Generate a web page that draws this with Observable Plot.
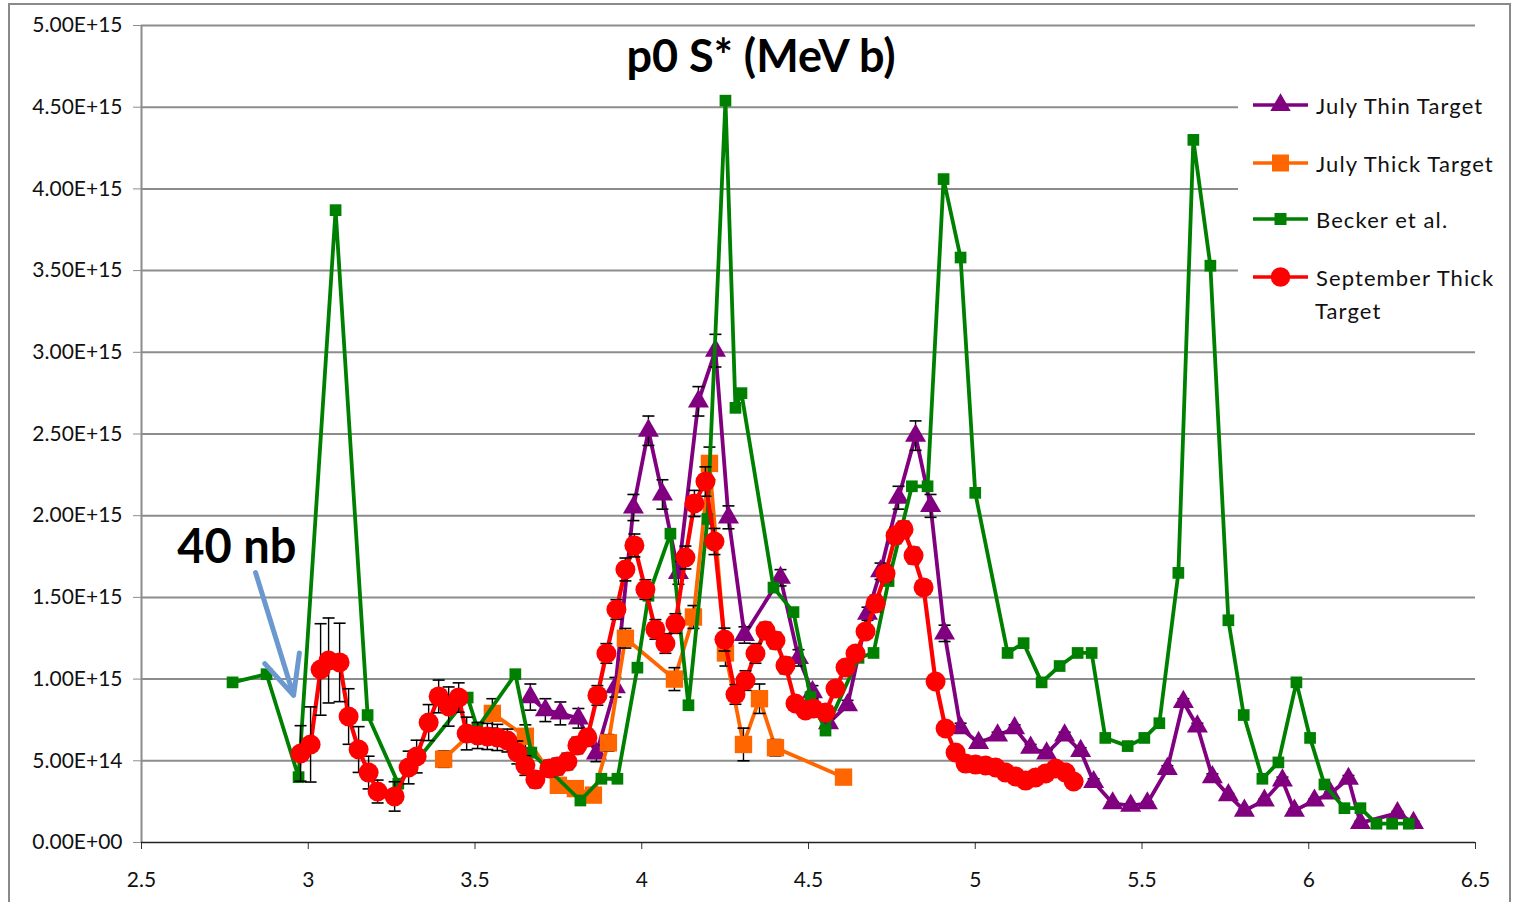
<!DOCTYPE html>
<html>
<head>
<meta charset="utf-8">
<script src="https://cdn.jsdelivr.net/npm/d3@7"></script>
<script src="https://cdn.jsdelivr.net/npm/@observablehq/plot@0.6"></script>
<style>
  html, body { margin: 0; padding: 0; background: #fff; }
  #wrap { position: relative; width: 1514px; height: 902px; overflow: hidden; font-family: Lato, "Open Sans", sans-serif; }
  #border { position: absolute; left: 8px; top: 3px; width: 1503px; height: 920px; border: 2px solid #8a8a8a; box-sizing: border-box; }
  #chart { position: absolute; left: 0; top: 0; }
  #title { position: absolute; left: 0; width: 1522px; top: 33px; text-align: center; font: bold 45px Lato, sans-serif; line-height: 45px; color: #000; }
  #legend { position: absolute; left: 1238px; top: 84px; width: 270px; height: 252px; background: #fff; }
  .li { position: absolute; left: 1253px; height: 30px; display: flex; align-items: center; font: 22px Lato, sans-serif; letter-spacing: 1.1px; color: #111; white-space: nowrap; }
  .li svg { margin-right: 7px; }
</style>
</head>
<body>
<div id="wrap">
  <div id="border"></div>
  <div id="chart"></div>
  <div id="title">p0 S* (MeV b)</div>
  <div id="legend"></div>
  <div id="legendItems"></div>
</div>
<script>
// ---------- data (y values in units of 1e15) ----------
const UNIT = 1e15;

const xTicks = [2.5, 3, 3.5, 4, 4.5, 5, 5.5, 6, 6.5];
const xTickLabels = ["2.5", "3", "3.5", "4", "4.5", "5", "5.5", "6", "6.5"];
const yTicks = [0, 0.5e15, 1e15, 1.5e15, 2e15, 2.5e15, 3e15, 3.5e15, 4e15, 4.5e15, 5e15];
const yTickLabels = ["0.00E+00","5.00E+14","1.00E+15","1.50E+15","2.00E+15","2.50E+15","3.00E+15","3.50E+15","4.00E+15","4.50E+15","5.00E+15"];

const seriesNames = ["July Thin Target", "July Thick Target", "Becker et al.", "September Thick Target"];
const seriesColors = ["#800080", "#ff6600", "#008000", "#ff0000"];

// July Thin Target (purple triangles)
const thinX = [3.666,3.711,3.756,3.810,3.864,3.921,3.975,4.020,4.062,4.110,4.170,4.221,4.260,4.308,4.416,4.470,4.512,4.560,4.617,4.677,4.716,4.770,4.821,4.866,4.908,4.956,5.010,5.067,5.118,5.166,5.214,5.268,5.316,5.355,5.412,5.466,5.516,5.576,5.624,5.666,5.711,5.759,5.807,5.867,5.921,5.957,6.017,6.065,6.119,6.155,6.266,6.314];
const thinY = [0.89,0.81,0.79,0.76,0.545,0.95,2.05,2.52,2.13,1.65,2.70,3.01,1.99,1.27,1.62,1.13,0.92,0.73,0.84,1.40,1.66,2.11,2.49,2.06,1.28,0.70,0.61,0.655,0.70,0.58,0.545,0.655,0.56,0.37,0.24,0.226,0.24,0.45,0.86,0.71,0.40,0.29,0.195,0.257,0.38,0.195,0.257,0.30,0.39,0.12,0.18,0.12];
const thinErr = [0.08,0.07,0.07,0.06,0.05,0.06,0.08,0.09,0.09,0.07,0.09,0.10,0.07,0.05,0.05,0.05,0.04,0.03,0.03,0.04,0.05,0.07,0.09,0.07,0.05,0.03,0.02,0.02,0.02,0.02,0.02,0.02,0.02,0.02,0.01,0.01,0.01,0.02,0.02,0.02,0.02,0.01,0.01,0.01,0.02,0.01,0.01,0.01,0.02,0.01,0.01,0.01];

// July Thick Target (orange squares)
const thickX = [3.406,3.552,3.651,3.750,3.801,3.855,3.900,3.951,4.098,4.155,4.203,4.251,4.305,4.353,4.401,4.605];
const thickY = [0.51,0.79,0.65,0.35,0.33,0.29,0.61,1.25,1.00,1.38,2.32,1.16,0.60,0.88,0.58,0.40];
const thickErr = [0.05,0.09,0.07,0.04,0.04,0.03,0.05,0.06,0.07,0.07,0.10,0.08,0.10,0.09,0.05,0.03];

// Becker et al. (green squares, no error bars)
const beckerX = [2.773,2.875,2.971,3.082,3.178,3.270,3.478,3.507,3.621,3.669,3.816,3.879,3.927,3.987,4.020,4.086,4.140,4.197,4.251,4.281,4.299,4.395,4.455,4.506,4.551,4.650,4.695,4.740,4.810,4.857,4.905,4.956,5.000,5.097,5.145,5.199,5.253,5.307,5.349,5.390,5.457,5.507,5.552,5.609,5.654,5.705,5.759,5.805,5.861,5.909,5.963,6.004,6.047,6.107,6.155,6.203,6.250,6.300];
const beckerY = [0.98,1.03,0.40,3.87,0.78,0.36,0.887,0.70,1.03,0.55,0.257,0.39,0.39,1.07,1.51,1.89,0.84,1.98,4.54,2.66,2.75,1.56,1.41,0.89,0.685,1.13,1.16,1.60,2.18,2.18,4.06,3.58,2.14,1.16,1.22,0.98,1.08,1.16,1.16,0.64,0.59,0.64,0.73,1.65,4.30,3.53,1.36,0.78,0.39,0.49,0.98,0.64,0.355,0.21,0.21,0.115,0.115,0.115];

// September Thick Target (red circles)
const septX = [2.977,3.007,3.037,3.061,3.094,3.121,3.151,3.181,3.208,3.259,3.301,3.325,3.361,3.391,3.421,3.451,3.475,3.508,3.537,3.567,3.597,3.627,3.651,3.681,3.723,3.747,3.777,3.807,3.837,3.867,3.894,3.924,3.951,3.978,4.011,4.041,4.071,4.101,4.131,4.158,4.191,4.218,4.248,4.281,4.311,4.341,4.371,4.401,4.431,4.461,4.491,4.515,4.551,4.581,4.611,4.641,4.671,4.701,4.731,4.761,4.785,4.815,4.845,4.881,4.911,4.941,4.971,5.001,5.031,5.061,5.091,5.121,5.151,5.181,5.211,5.241,5.271,5.295];
const septY = [0.545,0.60,1.059,1.114,1.102,0.771,0.569,0.428,0.312,0.282,0.459,0.526,0.734,0.894,0.832,0.887,0.667,0.655,0.649,0.643,0.624,0.551,0.471,0.386,0.453,0.465,0.496,0.594,0.643,0.90,1.157,1.426,1.671,1.818,1.548,1.304,1.218,1.340,1.744,2.075,2.209,1.842,1.242,0.906,0.991,1.157,1.297,1.236,1.083,0.851,0.808,0.82,0.796,0.942,1.071,1.157,1.291,1.463,1.646,1.879,1.916,1.756,1.561,0.985,0.698,0.551,0.483,0.477,0.471,0.459,0.428,0.404,0.379,0.398,0.422,0.453,0.428,0.373];
const septErr = [0.17,0.23,0.28,0.26,0.24,0.17,0.14,0.10,0.07,0.09,0.10,0.10,0.11,0.10,0.12,0.09,0.10,0.08,0.08,0.08,0.07,0.07,0.06,0.05,0.05,0.05,0.05,0.05,0.05,0.06,0.06,0.06,0.07,0.07,0.06,0.06,0.06,0.06,0.07,0.08,0.09,0.08,0.07,0.06,0.06,0.06,0.05,0.05,0.05,0.04,0.04,0.04,0.04,0.04,0.04,0.04,0.04,0.05,0.05,0.05,0.05,0.05,0.04,0.03,0.03,0.02,0.02,0.02,0.02,0.02,0.02,0.02,0.02,0.02,0.02,0.02,0.02,0.02];

// annotation
const noteText = ["40 nb"];
const noteX = [2.786];
const noteY = [1.80];
const arrowFrom = [2.842, 1.652];
const arrowTo = [2.956, 0.90];

// ---------- build ----------
const rows = (xs, ys, es) => xs.map((x, i) => ({x, y: ys[i] * UNIT, e: es ? es[i] * UNIT : 0}));
const thin = rows(thinX, thinY, thinErr);
const thick = rows(thickX, thickY, thickErr);
const becker = rows(beckerX, beckerY, null);
const sept = rows(septX, septY, septErr);

const capSymbol = {
  draw(ctx, size) {
    const r = Math.sqrt(size / Math.PI);
    ctx.moveTo(-r, 0);
    ctx.lineTo(r, 0);
  }
};

function errorBars(data) {
  return [
    Plot.ruleX(data, {x: "x", y1: d => d.y - d.e, y2: d => d.y + d.e, stroke: "#000", strokeWidth: 1.4}),
    Plot.dot(data, {x: "x", y: d => d.y + d.e, symbol: capSymbol, r: 6, stroke: "#000", strokeWidth: 1.6, fill: "none"}),
    Plot.dot(data, {x: "x", y: d => d.y - d.e, symbol: capSymbol, r: 6, stroke: "#000", strokeWidth: 1.6, fill: "none"})
  ];
}

const chart = Plot.plot({
  width: 1514,
  height: 902,
  marginLeft: 141,
  marginRight: 39,
  marginTop: 25,
  marginBottom: 60,
  style: {fontFamily: "Lato, 'Open Sans', sans-serif", fontSize: "21px", background: "transparent", overflow: "visible"},
  x: {domain: [2.5, 6.5], axis: null},
  y: {domain: [0, 5e15], axis: null},
  marks: [
    Plot.ruleY(yTicks.filter(v => v > 0), {stroke: "#8c8c8c", strokeWidth: 2}),
    Plot.ruleX([2.5], {stroke: "#8c8c8c", strokeWidth: 2}),
    Plot.axisY({ticks: yTicks, tickFormat: (d) => yTickLabels[yTicks.indexOf(d)], tickSize: 8, tickPadding: 11, stroke: "#8c8c8c", fill: "#111", label: null, style: {letterSpacing: "2.9px"}}),
    Plot.axisX({ticks: xTicks, tickFormat: (d) => xTickLabels[xTicks.indexOf(d)], tickSize: 7, tickPadding: 23, stroke: "#333", fill: "#111", label: null, style: {letterSpacing: "1.6px"}}),
    Plot.ruleY([0], {stroke: "#222", strokeWidth: 1.6}),

    // July Thin Target
    Plot.line(thin, {x: "x", y: "y", stroke: seriesColors[0], strokeWidth: 3.8}),
    ...errorBars(thin),
    Plot.dot(thin, {x: "x", y: "y", symbol: "triangle", r: 7.8, fill: seriesColors[0], stroke: "none"}),

    // July Thick Target
    Plot.line(thick, {x: "x", y: "y", stroke: seriesColors[1], strokeWidth: 3.8}),
    ...errorBars(thick),
    Plot.dot(thick, {x: "x", y: "y", symbol: "square", r: 9.8, fill: seriesColors[1], stroke: "none"}),

    // Becker et al.
    Plot.line(becker, {x: "x", y: "y", stroke: seriesColors[2], strokeWidth: 3.8}),
    Plot.dot(becker, {x: "x", y: "y", symbol: "square", r: 6.6, fill: seriesColors[2], stroke: "none"}),

    // September Thick Target
    Plot.line(sept, {x: "x", y: "y", stroke: seriesColors[3], strokeWidth: 4.2}),
    ...errorBars(sept),
    Plot.dot(sept, {x: "x", y: "y", r: 10, fill: seriesColors[3], stroke: "none"}),

    // annotation
    Plot.arrow([{x1: arrowFrom[0], y1: arrowFrom[1] * UNIT, x2: arrowTo[0], y2: arrowTo[1] * UNIT}],
      {x1: "x1", y1: "y1", x2: "x2", y2: "y2", stroke: "#6a98cf", strokeWidth: 5, headLength: 22, headAngle: 50}),
    Plot.text(noteText.map((t, i) => ({t, x: noteX[i], y: noteY[i] * UNIT})),
      {x: "x", y: "y", text: "t", fontSize: 47, fontWeight: "bold", fill: "#000", textAnchor: "middle"})
  ]
});
document.getElementById("chart").appendChild(chart);

// ---------- legend ----------
const legendRows = [106, 164, 220, 278];
const symbols = ["triangle", "square", "square", "circle"];
const symSize = [181, 289, 144, 300];
const holder = document.getElementById("legendItems");
seriesNames.forEach((name, i) => {
  const div = document.createElement("div");
  div.className = "li";
  div.style.top = (legendRows[i] - 16) + "px";
  const path = d3.symbol(d3["symbol" + symbols[i][0].toUpperCase() + symbols[i].slice(1)], symSize[i])();
  const svg = `<svg width="56" height="30"><line x1="0" x2="55" y1="15" y2="15" stroke="${seriesColors[i]}" stroke-width="3.5"/><path transform="translate(27.5,15)" d="${path}" fill="${seriesColors[i]}"/></svg>`;
  const label = i === 3 ? "September Thick" : name;
  div.innerHTML = svg + `<span>${label}</span>`;
  holder.appendChild(div);
  if (i === 3) {
    const d2 = document.createElement("div");
    d2.className = "li";
    d2.style.top = (legendRows[i] - 16 + 33) + "px";
    d2.style.left = "1315px";
    d2.textContent = "Target";
    holder.appendChild(d2);
  }
});
</script>
</body>
</html>
